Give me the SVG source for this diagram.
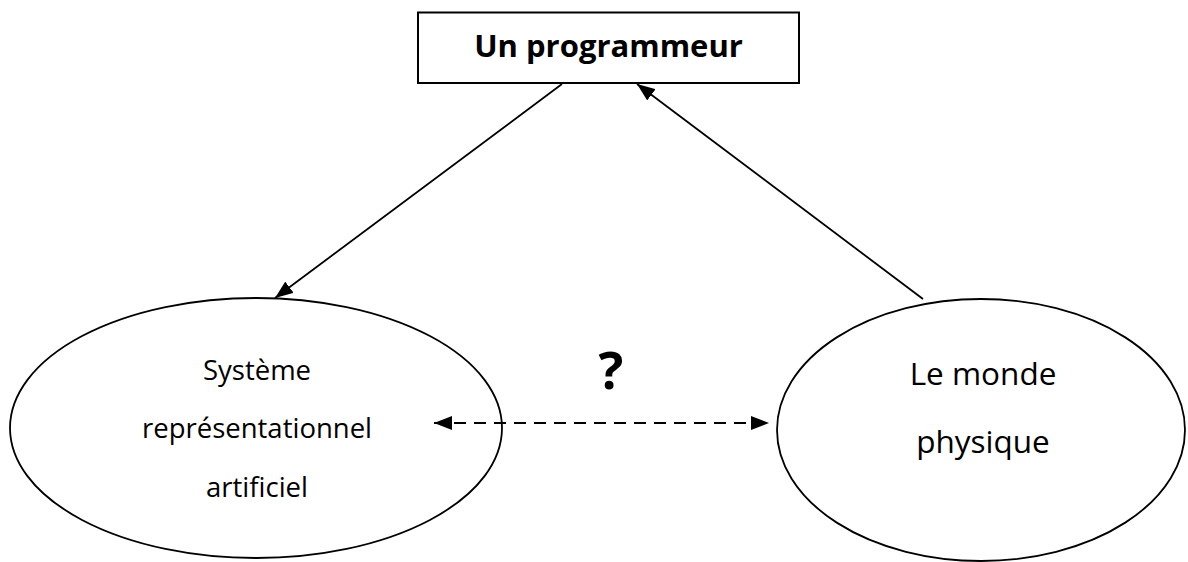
<svg xmlns="http://www.w3.org/2000/svg" width="1188" height="562" viewBox="0 0 1188 562">
<defs>
<style>
.shape{fill:none;stroke:#000;stroke-width:1.8}
.conn{fill:none;stroke:#000;stroke-width:1.8}
.dash{stroke-dasharray:12 8;stroke-width:2}
.t{font-family:"Open Sans","Noto Sans",sans-serif;fill:#000;text-anchor:middle}
</style>
<marker id="ahb" viewBox="0 0 18 14" refX="18" refY="7" markerWidth="18" markerHeight="14" markerUnits="userSpaceOnUse" orient="auto-start-reverse">
<path d="M0,0 L18,7 L0,14 z" fill="#000"/>
</marker>
</defs>
<rect width="1188" height="562" fill="#fff"/>
<g id="connectors">
<line class="conn" x1="562" y1="84" x2="275" y2="298" marker-end="url(#ahb)"/>
<line class="conn" x1="923" y1="299" x2="637" y2="84" marker-end="url(#ahb)"/>
<line class="conn dash" x1="434" y1="423" x2="769" y2="423" marker-start="url(#ahb)" marker-end="url(#ahb)"/>
</g>
<g id="programmeur">
<rect class="shape" x="418" y="12.5" width="381" height="70.5" style="fill:#fff;stroke-width:2"/>
<text class="t" x="608.5" y="57" font-size="31" font-weight="bold">Un programmeur</text>
</g>
<g id="systeme">
<ellipse class="shape" cx="256" cy="428" rx="246" ry="130"/>
<text class="t" x="257" y="380" font-size="27.5">Système</text>
<text class="t" x="257" y="438" font-size="27.5">représentationnel</text>
<text class="t" x="257" y="497" font-size="27.5">artificiel</text>
</g>
<g id="monde">
<ellipse class="shape" cx="981" cy="430" rx="204" ry="131"/>
<text class="t" x="983" y="385" font-size="31.5">Le monde</text>
<text class="t" x="983" y="453" font-size="31.5">physique</text>
</g>
<g id="question">
<text class="t" x="611" y="389" font-size="52" font-weight="bold">?</text>
</g>
</svg>
